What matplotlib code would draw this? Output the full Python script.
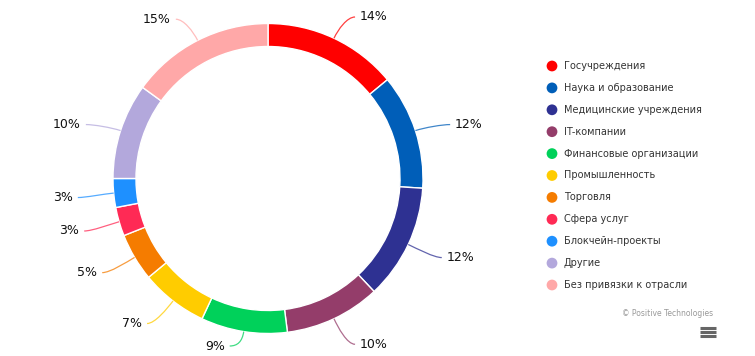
import numpy as np
import matplotlib.pyplot as plt
from matplotlib.path import Path
from matplotlib.patches import PathPatch


# sectors, clockwise from the top
categories = ['Госучреждения', 'Наука и образование', 'Медицинские учреждения',
              'IT-компании', 'Финансовые организации', 'Промышленность',
              'Торговля', 'Сфера услуг', 'Блокчейн-проекты', 'Другие',
              'Без привязки к отрасли']
shares = [14, 12, 12, 10, 9, 7, 5, 3, 3, 10, 15]
colors = ['#ff0000', '#005eb8', '#2e3192', '#943d6a', '#00d15a', '#ffcc00',
          '#f57c00', '#ff2a55', '#1e90ff', '#b3a8dc', '#ffa8a8']

W, H = 755, 356
cx, cy = 268, H - 178.5
R = 155

fig = plt.figure(figsize=(W / 100, H / 100), dpi=100)
ax = fig.add_axes([0, 0, 1, 1])

ax.pie(shares, colors=colors, startangle=90, counterclock=False,
       radius=R, center=(cx, cy),
       wedgeprops=dict(width=23, edgecolor='white', linewidth=1))

ax.set_xlim(0, W)
ax.set_ylim(0, H)
ax.set_aspect('equal')
ax.axis('off')

# data labels with curved connectors
total = sum(shares)
start = 0
for val, col in zip(shares, colors):
    mid = (start + val / 2) / total * 2 * np.pi
    start += val
    dx, dy = np.sin(mid), np.cos(mid)
    side = 1 if dx >= 0 else -1
    ax_x = cx + 181 * dx
    ty = cy + 181 * dy - 2
    ty = min(max(ty, H - 346), H - 17)
    p0 = (cx + R * dx, cy + R * dy)
    p1 = (cx + (R + 10) * dx, cy + (R + 10) * dy)
    p3 = (ax_x + side * 10, ty)
    p2 = (p3[0] - side * 8, ty)
    path = Path([p0, p1, p2, p3], [Path.MOVETO, Path.CURVE4, Path.CURVE4, Path.CURVE4])
    ax.add_patch(PathPatch(path, facecolor='none', edgecolor=col, lw=0.9, alpha=0.75))
    ax.text(ax_x + side * 15, ty, f'{val}%', ha='left' if side > 0 else 'right',
            va='center', fontsize=9, color='#111111')

# legend
for i, (name, col) in enumerate(zip(categories, colors)):
    y = H - (66 + 21.9 * i)
    ax.scatter(552, y, s=60, color=col, edgecolors='none')
    ax.text(564, y, name, va='center', ha='left', fontsize=7, color='#333333')

ax.text(713, H - 314, '© Positive Technologies', ha='right', va='center',
        fontsize=5.5, color='#999999')
for yy in (328, 332, 336):
    ax.plot([700, 716], [H - yy, H - yy], color='#666666', lw=2.2, solid_capstyle='butt')

fig.savefig('out.png', dpi=100)
